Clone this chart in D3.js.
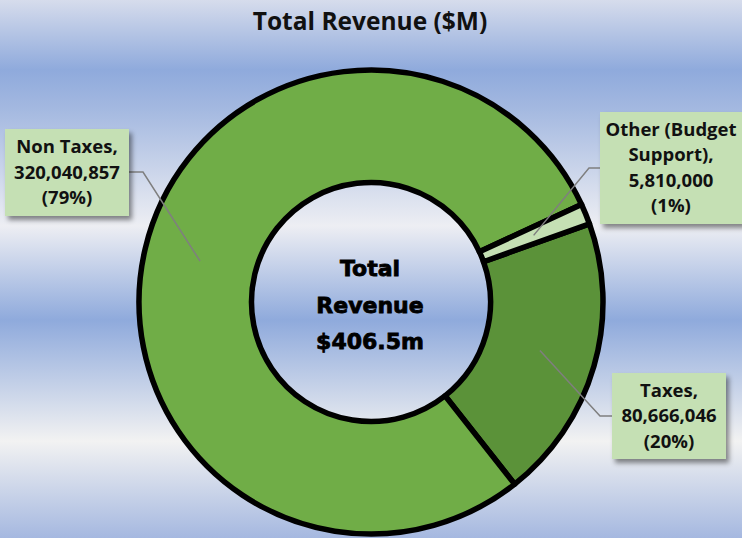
<!DOCTYPE html>
<html>
<head>
<meta charset="utf-8">
<script src="https://cdn.jsdelivr.net/npm/d3@7"></script>
<style>
	body { margin: 0; }
	svg { display: block; }
	.title { font-family: 'Open Sans', sans-serif; font-weight: bold; font-size: 24.5px; fill: #111; }
	.lbl { font-family: 'Open Sans', sans-serif; font-weight: bold; font-size: 18.5px; fill: #111; }
	.center { font-family: 'DejaVu Sans', sans-serif; font-weight: bold; font-size: 22px; fill: #000; stroke: #000; stroke-width: 0.8px; }
</style>
</head>
<body>
<svg width="742" height="538"></svg>
<script>
// data
var categories = ['Taxes', 'Non Taxes', 'Other (Budget Support)'];
var values = [80666046, 320040857, 5810000];
var nameLines = [['Taxes,'], ['Non Taxes,'], ['Other (Budget', 'Support),']];
var colours = ['#5B9239', '#70AD47', '#C5E0B4'];
var centerLines = ['Total', 'Revenue', '$406.5m'];
var title = 'Total Revenue ($M)';

function main() {
	var svg = d3.select('svg'),
	width = +svg.attr('width'),
	height = +svg.attr('height');

	var cx = 371, cy = 302;

	var defs = svg.append('defs');
	var grad = defs.append('linearGradient')
		.attr('id', 'bg')
		.attr('x1', 0).attr('y1', 0).attr('x2', 0).attr('y2', 1);
	[[0, '#D6DCEC'], [0.13, '#8FAADC'], [0.2, '#A3B8E0'], [0.42, '#EDEEF3'],
	 [0.595, '#8FAADC'], [0.82, '#F2F2F2'], [1, '#A5B8E0']].forEach(function(s){
		grad.append('stop').attr('offset', s[0]).attr('stop-color', s[1]);
	});
	var shadow = defs.append('filter').attr('id', 'shadow')
		.attr('x', '-20%').attr('y', '-20%').attr('width', '150%').attr('height', '150%');
	shadow.append('feDropShadow')
		.attr('dx', 3).attr('dy', 4).attr('stdDeviation', 2.5)
		.attr('flood-color', '#000').attr('flood-opacity', 0.45);

	svg.append('rect')
		.attr('width', width).attr('height', height)
		.attr('fill', 'url(#bg)');

	svg.append('text')
		.attr('class', 'title')
		.attr('x', 370).attr('y', 30)
		.attr('text-anchor', 'middle')
		.text(title);

	var data = categories.map(function(c, i){
		return {name: c, value: values[i], lines: nameLines[i], colour: colours[i]};
	});
	var total = d3.sum(values);

	var start = 70.3 * Math.PI / 180;
	var pie = d3.pie().sort(null)
		.startAngle(start).endAngle(start + 2 * Math.PI)
		.value(function(d){ return d.value; });
	var path = d3.arc()
		.outerRadius(232)
		.innerRadius(119.5);

	var g = svg.append('g')
		.attr('transform', 'translate(' + cx + ',' + cy + ')');

	var arcs = pie(data);

	g.selectAll('.arc')
		.data(arcs)
		.enter().append('path')
		.attr('class', 'arc')
		.attr('d', path)
		.attr('fill', function(d){ return d.data.colour; })
		.attr('stroke', '#000')
		.attr('stroke-width', 5.5)
		.attr('stroke-linejoin', 'round');

	// centre text
	g.selectAll('.center')
		.data(centerLines)
		.enter().append('text')
		.attr('class', 'center')
		.attr('text-anchor', 'middle')
		.attr('x', -1)
		.attr('y', function(d, i){ return -26 + i * 36.5; })
		.text(function(d){ return d; });

	// label boxes (absolute positions)
	var boxes = [
		{x: 612, y: 373, w: 114, h: 86, lx: 600, ly: 416, side: 'left'},
		{x: 5, y: 129, w: 124, h: 87, lx: 143, ly: 172, side: 'right'},
		{x: 600, y: 112, w: 143, h: 112, lx: 589, ly: 168, side: 'left'}
	];
	var fmt = d3.format(',');

	arcs.forEach(function(a, i){
		var b = boxes[i];
		var c = path.centroid(a);
		var ex = cx + c[0], ey = cy + c[1];
		var bx = b.side == 'left' ? b.x : b.x + b.w;
		svg.append('polyline')
			.attr('points', [[bx, b.ly], [b.lx, b.ly], [ex, ey]].join(' '))
			.attr('fill', 'none')
			.attr('stroke', '#7F7F7F')
			.attr('stroke-width', 1.5);
	});

	arcs.forEach(function(a, i){
		var b = boxes[i];
		var d = a.data;
		var lines = d.lines.concat([fmt(d.value), '(' + Math.round(d.value / total * 100) + '%)']);
		svg.append('rect')
			.attr('x', b.x).attr('y', b.y)
			.attr('width', b.w).attr('height', b.h)
			.attr('fill', '#C5E0B4')
			.attr('filter', 'url(#shadow)');
		var mid = b.x + b.w / 2;
		if (i == 2) mid = 671;
		var top = b.y + b.h / 2 - (lines.length - 1) * 25.5 / 2 + 6;
		svg.selectAll(null)
			.data(lines)
			.enter().append('text')
			.attr('class', 'lbl')
			.attr('text-anchor', 'middle')
			.attr('x', mid)
			.attr('y', function(t, j){ return top + j * 25.5; })
			.text(function(t){ return t; });
	});
}
main();
</script>
</body>
</html>
